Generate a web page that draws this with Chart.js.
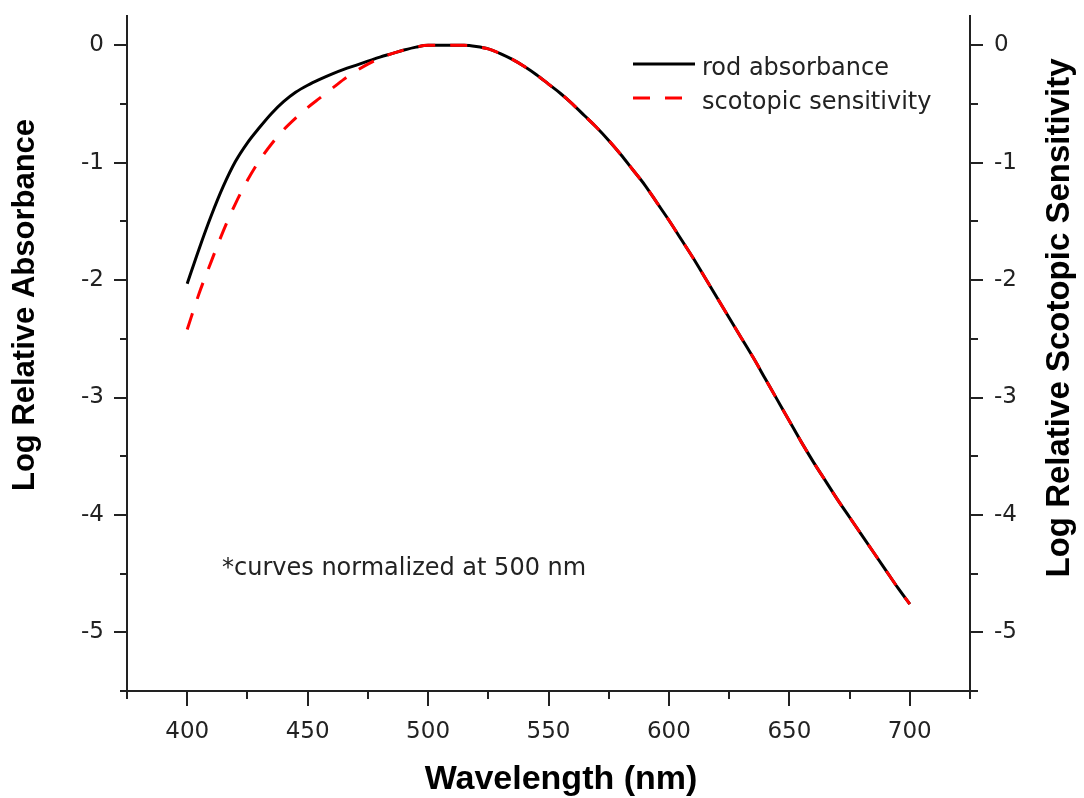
<!DOCTYPE html>
<html>
<head>
<meta charset="utf-8">
<script src="https://cdn.jsdelivr.net/npm/chart.js@4/dist/chart.umd.min.js"></script>
<style>
html,body{margin:0;padding:0;background:#fff}
#wrap{width:1084px;height:798px}
</style>
</head>
<body>
<div id="wrap"><canvas id="c" width="1084" height="798"></canvas></div>
<script>
/* rod absorbance vs scotopic sensitivity */
const wavelength=[400,405,410,415,420,425,430,435,440,445,450,455,460,465,470,475,480,485,490,495,
  500,505,510,515,520,525,530,535,540,545,550,555,560,565,570,575,580,585,590,595,
  600,605,610,615,620,625,630,635,640,645,650,655,660,665,670,675,680,685,690,695,700];
const rodAbsorbance=[-2.03,-1.73,-1.45,-1.20,-0.99,-0.83,-0.70,-0.58,-0.48,-0.40,-0.34,-0.29,-0.245,-0.205,-0.17,-0.135,-0.10,-0.07,-0.04,-0.015,
  0,0,0,0,-0.01,-0.03,-0.07,-0.12,-0.18,-0.25,-0.33,-0.41,-0.50,-0.60,-0.70,-0.81,-0.93,-1.06,-1.19,-1.34,
  -1.49,-1.65,-1.81,-1.98,-2.15,-2.32,-2.49,-2.66,-2.84,-3.02,-3.20,-3.38,-3.55,-3.71,-3.87,-4.02,-4.17,-4.32,-4.47,-4.62,-4.76];
const scotopicSensitivity=[-2.42,-2.11,-1.84,-1.58,-1.35,-1.15,-0.98,-0.84,-0.72,-0.62,-0.53,-0.45,-0.37,-0.29,-0.22,-0.16,-0.11,-0.07,-0.04,-0.015,
  0,0,0,0,-0.01,-0.03,-0.07,-0.12,-0.18,-0.25,-0.33,-0.41,-0.50,-0.60,-0.70,-0.81,-0.93,-1.06,-1.19,-1.34,
  -1.49,-1.65,-1.81,-1.98,-2.15,-2.32,-2.49,-2.66,-2.84,-3.02,-3.20,-3.38,-3.55,-3.71,-3.87,-4.02,-4.17,-4.32,-4.47,-4.62,-4.76];
const seriesNames=['rod absorbance','scotopic sensitivity'];
const xMajor=[400,450,500,550,600,650,700];
const xMinor=[375,425,475,525,575,625,675,725];
const yMajor=[0,-1,-2,-3,-4,-5];
const yMinor=[-0.5,-1.5,-2.5,-3.5,-4.5,-5.5];
const xTitle='Wavelength (nm)';
const yTitle='Log Relative Absorbance';
const y2Title='Log Relative Scotopic Sensitivity';
const note='*curves normalized at 500 nm';

const AX='#222';
const tickFont={family:'DejaVu Sans',size:23};

function pts(ys){return wavelength.map(function(w,i){return{x:w,y:ys[i]};});}
function noPad(s){s.paddingTop=0;s.paddingBottom=0;s.paddingLeft=0;s.paddingRight=0;}

const extras={id:'extras',afterDraw(chart){
  const ctx=chart.ctx,x=chart.scales.x,y=chart.scales.y,y2=chart.scales.y2;
  ctx.save();
  // minor ticks
  ctx.strokeStyle=AX;ctx.lineWidth=2;ctx.beginPath();
  xMinor.forEach(function(v){const p=Math.round(x.getPixelForValue(v));ctx.moveTo(p,x.top);ctx.lineTo(p,x.top+8);});
  yMinor.forEach(function(v){const p=Math.round(y.getPixelForValue(v));
    ctx.moveTo(y.right,p);ctx.lineTo(y.right-7,p);ctx.moveTo(y2.left,p);ctx.lineTo(y2.left+8,p);});
  ctx.stroke();
  // axis titles
  ctx.fillStyle='#000';ctx.textAlign='center';ctx.textBaseline='middle';
  ctx.font='bold 34px "Liberation Sans", Arial, sans-serif';
  ctx.fillText(xTitle,561,780);
  ctx.font='bold 31px "Liberation Sans", Arial, sans-serif';
  ctx.save();ctx.translate(25,305);ctx.rotate(-Math.PI/2);ctx.fillText(yTitle,0,0);ctx.restore();
  ctx.font='bold 33px "Liberation Sans", Arial, sans-serif';
  ctx.save();ctx.translate(1060,318);ctx.rotate(-Math.PI/2);ctx.fillText(y2Title,0,0);ctx.restore();
  // legend
  ctx.font='24px "DejaVu Sans", sans-serif';ctx.textAlign='left';ctx.textBaseline='alphabetic';ctx.fillStyle='#222';
  chart.data.datasets.forEach(function(ds,i){
    const ly=64+i*34;
    ctx.strokeStyle=ds.borderColor;ctx.lineWidth=3;ctx.setLineDash(ds.borderDash||[]);
    ctx.beginPath();ctx.moveTo(633,ly);ctx.lineTo(695,ly);ctx.stroke();
    ctx.setLineDash([]);
    ctx.fillText(ds.label,702,ly+11);
  });
  // note
  ctx.fillText(note,222,575);
  ctx.restore();
}};

new Chart(document.getElementById('c'),{
  type:'line',
  data:{datasets:[
    {label:seriesNames[0],data:pts(rodAbsorbance),borderColor:'#000',borderWidth:3,pointRadius:0,fill:false,
      cubicInterpolationMode:'monotone',yAxisID:'y',order:2},
    {label:seriesNames[1],data:pts(scotopicSensitivity),borderColor:'#ff0000',borderWidth:3,borderDash:[17,15],pointRadius:0,fill:false,
      cubicInterpolationMode:'monotone',yAxisID:'y2',order:1}
  ]},
  options:{
    responsive:false,animation:false,
    layout:{padding:{top:16,left:0,right:0,bottom:0}},
    plugins:{legend:{display:false},tooltip:{enabled:false}},
    scales:{
      x:{type:'linear',min:375,max:725,
        afterBuildTicks:function(s){s.ticks=xMajor.map(function(v){return{value:v};});},
        afterFit:function(s){s.height=107;noPad(s);},
        grid:{drawOnChartArea:false,tickLength:15,color:AX,lineWidth:2},
        border:{color:AX,width:2},
        ticks:{font:tickFont,color:'#222',padding:12,maxRotation:0,callback:function(v){return String(v);}}},
      y:{type:'linear',position:'left',min:-5.5,max:0.25,
        afterBuildTicks:function(s){s.ticks=yMajor.map(function(v){return{value:v};});},
        afterFit:function(s){s.width=127;noPad(s);},
        grid:{drawOnChartArea:false,tickLength:13,color:AX,lineWidth:2},
        border:{color:AX,width:2},
        ticks:{font:tickFont,color:'#222',padding:10,callback:function(v){return String(v);}}},
      y2:{type:'linear',position:'right',min:-5.5,max:0.25,
        afterBuildTicks:function(s){s.ticks=yMajor.map(function(v){return{value:v};});},
        afterFit:function(s){s.width=114;noPad(s);},
        grid:{drawOnChartArea:false,tickLength:13,color:AX,lineWidth:2},
        border:{color:AX,width:2},
        ticks:{font:tickFont,color:'#222',padding:11,callback:function(v){return String(v);}}}
    }
  },
  plugins:[extras]
});
</script>
</body>
</html>
